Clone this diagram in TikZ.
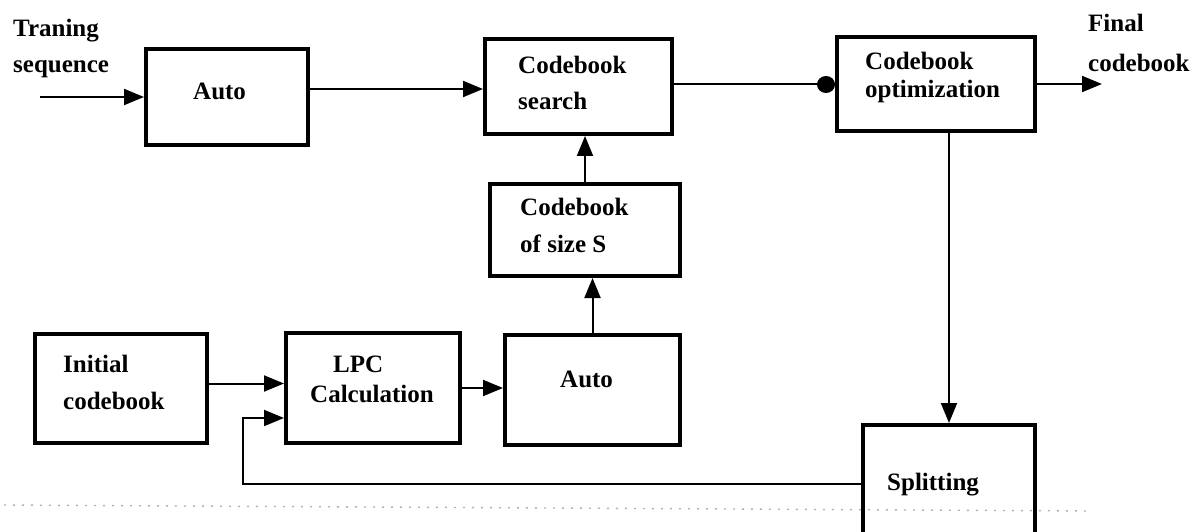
\documentclass[tikz,border=0pt]{standalone}
\usepackage{fontspec}
\setmainfont{Liberation Serif}
\usetikzlibrary{arrows.meta,calc}
\begin{document}
\begin{tikzpicture}[x=1pt,y=-1pt,
  blk/.style={draw, line width=4pt, inner sep=0pt},
  lbl/.style={anchor=base west, inner sep=0pt, font=\fontsize{25}{30}\selectfont\bfseries},
  arr/.style={line width=2pt, -{Triangle[length=20pt,width=16pt]}},
  blob/.style={line width=2pt, -{Circle[length=18pt,width=17pt]}}]
\clip (0,0) rectangle (1197,532);
\fill[white] (0,0) rectangle (1197,532);

% blocks
\node[blk, minimum width=162pt, minimum height=96pt]  (auto1)  at (227,97)   {};
\node[blk, minimum width=187pt, minimum height=95pt]  (search) at (578.5,86.5) {};
\node[blk, minimum width=198pt, minimum height=94pt]  (opt)    at (936,84)   {};
\node[blk, minimum width=190pt, minimum height=92pt]  (sizeS)  at (585,230)  {};
\node[blk, minimum width=172pt, minimum height=109pt] (init)   at (121,388.5) {};
\node[blk, minimum width=174pt, minimum height=110pt] (lpc)    at (373,388)  {};
\node[blk, minimum width=175pt, minimum height=110pt] (auto2)  at (592.5,390) {};
\node[blk, minimum width=172pt, minimum height=140pt] (split)  at (949,495)  {};

% labels
\node[lbl] (tTr)  at (13,37)   {Traning};
\node[lbl] (tSeq) at (13,73)   {sequence};
\node[lbl] (tA1)  at (193,100) {Auto};
\node[lbl] (tCs1) at (518,74)  {Codebook};
\node[lbl] (tCs2) at (518,110) {search};
\node[lbl] (tCo1) at (865,70)  {Codebook};
\node[lbl] (tCo2) at (865,98)  {optimization};
\node[lbl] (tF1)  at (1088,32) {Final};
\node[lbl] (tF2)  at (1088,72) {codebook};
\node[lbl] (tS1)  at (520,215) {Codebook};
\node[lbl] (tS2)  at (520,252) {of size S};
\node[lbl] (tI1)  at (63,372)  {Initial};
\node[lbl] (tI2)  at (63,409)  {codebook};
\node[lbl] (tL1)  at (333,372) {LPC};
\node[lbl] (tL2)  at (310,402) {Calculation};
\node[lbl] (tA2)  at (560,387) {Auto};
\node[lbl] (tSp)  at (887,490) {Splitting};

% connectors
\coordinate (src) at (40,97);
\coordinate (dst) at (1102,84);
\coordinate (fbk) at (243,418);
\draw[arr] (src) -- (auto1.west);
\draw[arr] ([yshift=8pt]auto1.east) coordinate (a1) -- (a1 -| search.west);
\draw[blob] ([yshift=2pt]search.east) coordinate (s1) -- (s1 -| opt.west);
\draw[arr] (opt.east) -- (dst);
\draw[arr] (split.north |- opt.south) -- (split.north);
\draw[arr] (sizeS.north) -- (sizeS.north |- search.south);
\draw[arr] (auto2.north) -- (auto2.north |- sizeS.south);
\draw[arr] ([yshift=5pt]init.east) coordinate (i1) -- (i1 -| lpc.west);
\draw[arr] (lpc.east) -- (lpc.east -| auto2.west);
\draw[arr] ([yshift=11pt]split.west) -| (fbk) -- (fbk -| lpc.west);

% faint dotted scan line along the bottom
\draw[gray!60, line width=1.4pt, dash pattern=on 2pt off 7pt] (4,505) -- (1090,511);
\end{tikzpicture}
\end{document}
